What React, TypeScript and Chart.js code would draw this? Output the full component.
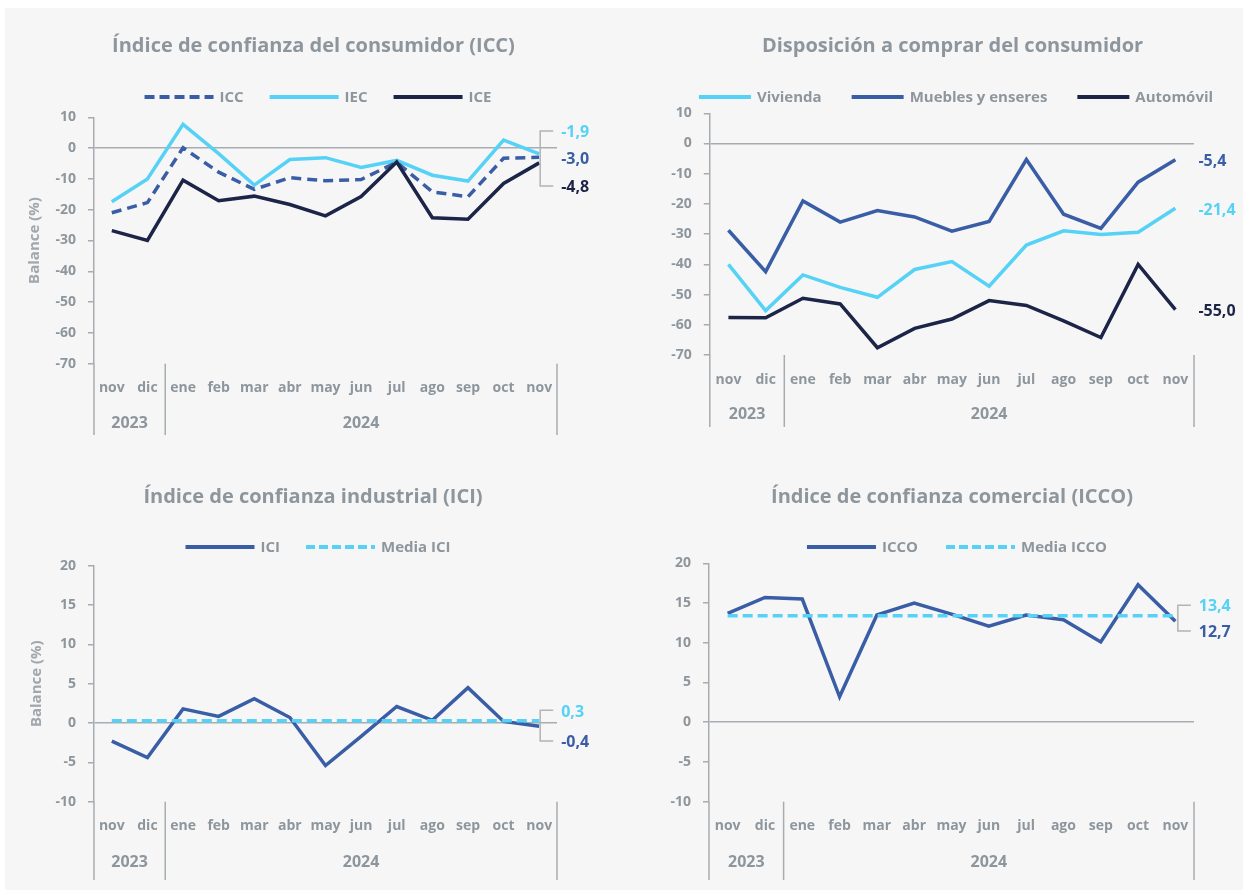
import React, { useEffect, useRef } from "react";
import { Chart, registerables } from "chart.js";

Chart.register(...registerables);

// ---------------- data ----------------
const months = ["nov", "dic", "ene", "feb", "mar", "abr", "may", "jun", "jul", "ago", "sep", "oct", "nov"];
const years = ["2023", "2024"];
const yearSpans = [2, 11];

const iccValues = [-21.0, -17.7, 0.1, -7.8, -13.4, -9.6, -10.6, -10.2, -4.6, -14.2, -15.8, -3.3, -3.0];
const iecValues = [-17.4, -10.0, 7.7, -1.8, -12.0, -3.7, -3.1, -6.3, -4.0, -8.8, -10.7, 2.6, -1.9];
const iceValues = [-26.8, -30.0, -10.4, -17.1, -15.6, -18.3, -22.0, -15.7, -4.5, -22.6, -23.1, -11.5, -4.8];

const viviendaValues = [-40.0, -55.3, -43.5, -47.6, -50.9, -41.7, -39.1, -47.2, -33.6, -28.9, -30.1, -29.4, -21.4];
const mueblesValues = [-28.7, -42.4, -19.0, -26.0, -22.2, -24.3, -29.0, -25.8, -5.3, -23.4, -28.1, -12.8, -5.4];
const automovilValues = [-57.6, -57.7, -51.2, -53.1, -67.6, -61.2, -58.1, -52.0, -53.6, -58.7, -64.2, -40.0, -55.0];

const iciValues = [-2.3, -4.4, 1.8, 0.85, 3.1, 0.7, -5.4, -1.7, 2.1, 0.35, 4.5, 0.2, -0.4];
const mediaIciValues = [0.3, 0.3, 0.3, 0.3, 0.3, 0.3, 0.3, 0.3, 0.3, 0.3, 0.3, 0.3, 0.3];

const iccoValues = [13.7, 15.7, 15.5, 3.2, 13.5, 15.0, 13.6, 12.1, 13.5, 12.9, 10.1, 17.3, 12.7];
const mediaIccoValues = [13.4, 13.4, 13.4, 13.4, 13.4, 13.4, 13.4, 13.4, 13.4, 13.4, 13.4, 13.4, 13.4];

const ticksWide = { min: -70, max: 10, step: 10 };
const ticksNarrow = { min: -10, max: 20, step: 5 };

// ---------------- styles ----------------
const LIGHT = "#55d2f6";
const MID = "#3a5ea6";
const NAVY = "#1c2547";
const TEXT = "#8e969d";
const AXIS = "#a7acb1";
const BRACKET = "#b3b3b3";
const BG = "#f6f6f6";
const FONT = "'Open Sans', sans-serif";

const fmt = (v: number) => v.toFixed(1).replace(".", ",");

const decorPlugin = {
  id: "decor",
  afterDraw(chart: any, _args: any, o: any) {
    if (!o || !o.title) return;
    const { ctx, chartArea } = chart;
    const xs = chart.scales.x;
    ctx.save();
    // title
    ctx.fillStyle = TEXT;
    ctx.font = `bold 20px ${FONT}`;
    ctx.textAlign = "center";
    ctx.textBaseline = "middle";
    ctx.fillText(o.title, o.titleX, o.titleY);

    // legend
    ctx.font = `bold 15px ${FONT}`;
    const items = o.legend;
    const widths = items.map((it: any) => ctx.measureText(it.label).width);
    const total =
      items.reduce((s: number, it: any, i: number) => s + it.lineLen + o.legendTextGap + widths[i], 0) +
      o.legendGap * (items.length - 1);
    let lx = o.legendX - total / 2;
    items.forEach((it: any, i: number) => {
      ctx.beginPath();
      ctx.setLineDash(it.dash || []);
      ctx.lineWidth = 4;
      ctx.lineCap = "butt";
      ctx.strokeStyle = it.color;
      ctx.moveTo(lx, o.legendY);
      ctx.lineTo(lx + it.lineLen, o.legendY);
      ctx.stroke();
      ctx.setLineDash([]);
      lx += it.lineLen + o.legendTextGap;
      ctx.textAlign = "left";
      ctx.fillStyle = TEXT;
      ctx.fillText(it.label, lx, o.legendY + 1);
      lx += widths[i] + o.legendGap;
    });

    // separators + year labels
    const step = xs.getPixelForValue(1) - xs.getPixelForValue(0);
    ctx.strokeStyle = AXIS;
    ctx.lineWidth = 1.5;
    const drawSep = (px: number) => {
      ctx.beginPath();
      ctx.moveTo(px, chartArea.bottom);
      ctx.lineTo(px, o.sepBottom);
      ctx.stroke();
    };
    drawSep(xs.getPixelForValue(0) - step / 2);
    ctx.font = `bold 16px ${FONT}`;
    ctx.fillStyle = TEXT;
    ctx.textAlign = "center";
    let start = 0;
    years.forEach((yr, i) => {
      const end = start + yearSpans[i] - 1;
      const cx = (xs.getPixelForValue(start) + xs.getPixelForValue(end)) / 2;
      ctx.fillText(yr, cx, o.yearY);
      drawSep(xs.getPixelForValue(end) + step / 2);
      start = end + 1;
    });

    const lastPt = (ds: number) => {
      const meta = chart.getDatasetMeta(ds);
      return meta.data[meta.data.length - 1];
    };

    // bracket
    if (o.bracket) {
      const b = o.bracket;
      const pTop = lastPt(b.top.ds);
      const pBot = lastPt(b.bottom.ds);
      const bx = pTop.x + b.dx;
      const yt = pTop.y + b.top.dy;
      const yb = pBot.y + b.bottom.dy;
      ctx.strokeStyle = BRACKET;
      ctx.lineWidth = 1.5;
      ctx.beginPath();
      ctx.moveTo(bx + b.len, yt);
      ctx.lineTo(bx, yt);
      ctx.lineTo(bx, yb);
      ctx.lineTo(bx + b.len, yb);
      ctx.stroke();
    }

    // end labels
    ctx.font = `bold 16px ${FONT}`;
    ctx.textAlign = "left";
    o.endLabels.forEach((l: any) => {
      const pt = lastPt(l.ds);
      const data = chart.data.datasets[l.ds].data;
      ctx.fillStyle = l.color;
      ctx.fillText(fmt(data[data.length - 1]), pt.x + o.labelDx, pt.y + l.dy);
    });
    ctx.restore();
  },
};

function line(label: string, data: number[], color: string, order: number, dash?: number[]) {
  return {
    label,
    data,
    borderColor: color,
    backgroundColor: color,
    borderWidth: 3.5,
    borderDash: dash || [],
    pointRadius: 0,
    tension: 0,
    fill: false,
    order,
  };
}

function makeConfig(p: any) {
  const XH = 60;
  return {
    type: "line",
    data: { labels: months, datasets: p.datasets },
    plugins: [decorPlugin],
    options: {
      animation: false,
      responsive: false,
      maintainAspectRatio: false,
      layout: {
        padding: {
          left: p.padLeft,
          right: p.W - p.area.right,
          top: p.area.top,
          bottom: p.H - p.area.bottom - XH,
        },
      },
      plugins: {
        legend: { display: false },
        title: { display: false },
        tooltip: { enabled: false },
        decor: p.decor,
      },
      scales: {
        x: {
          type: "category",
          offset: true,
          grid: { display: false, drawTicks: false },
          border: { display: false },
          ticks: {
            autoSkip: false,
            maxRotation: 0,
            padding: p.xPad,
            color: TEXT,
            font: { family: FONT, weight: "bold", size: 14 },
          },
          afterFit: (s: any) => {
            s.height = XH;
          },
        },
        y: {
          min: p.y.min,
          max: p.y.max,
          ticks: {
            stepSize: p.y.step,
            padding: 12,
            color: TEXT,
            font: { family: FONT, weight: "bold", size: 14 },
            callback: (v: any) => String(v),
          },
          grid: {
            color: (c: any) => (c.tick && c.tick.value === 0 ? AXIS : "transparent"),
            lineWidth: 1.5,
            tickColor: AXIS,
            tickLength: 6,
            drawTicks: true,
          },
          border: { display: true, color: AXIS, width: 1.5 },
          title: {
            display: !!p.yTitle,
            text: p.yTitle || "",
            color: "#a1a7ac",
            font: { family: FONT, weight: "bold", size: 15 },
            padding: { top: 4, bottom: 4 },
          },
          afterFit: (s: any) => {
            s.width = p.area.left - p.padLeft;
          },
        },
      },
    },
  };
}

const panels = [
  {
    key: "icc",
    left: 0,
    top: 0,
    W: 620,
    H: 440,
    padLeft: 17,
    area: { left: 89, right: 552, top: 109.3, bottom: 355.7 },
    xPad: 16,
    y: ticksWide,
    yTitle: "Balance (%)",
    datasets: [
      line("ICC", iccValues, MID, 1, [10, 6]),
      line("IEC", iecValues, LIGHT, 2),
      line("ICE", iceValues, NAVY, 0),
    ],
    decor: {
      title: "Índice de confianza del consumidor (ICC)",
      titleX: 308.5,
      titleY: 38,
      legendX: 313,
      legendY: 89,
      legendTextGap: 6,
      legendGap: 26,
      legend: [
        { label: "ICC", color: MID, dash: [10, 5], lineLen: 69 },
        { label: "IEC", color: LIGHT, lineLen: 69 },
        { label: "ICE", color: NAVY, lineLen: 69 },
      ],
      yearY: 415,
      sepBottom: 427,
      labelDx: 22,
      endLabels: [
        { ds: 1, dy: -22, color: LIGHT },
        { ds: 0, dy: 2, color: MID },
        { ds: 2, dy: 25, color: NAVY },
      ],
      bracket: { top: { ds: 1, dy: -23 }, bottom: { ds: 2, dy: 23 }, dx: 1, len: 13 },
    },
  },
  {
    key: "disp",
    left: 620,
    top: 0,
    W: 618,
    H: 440,
    padLeft: 10,
    area: { left: 84.8, right: 569, top: 105.3, bottom: 347 },
    xPad: 16.5,
    y: ticksWide,
    yTitle: "",
    datasets: [
      line("Vivienda", viviendaValues, LIGHT, 2),
      line("Muebles y enseres", mueblesValues, MID, 1),
      line("Automóvil", automovilValues, NAVY, 0),
    ],
    decor: {
      title: "Disposición a comprar del consumidor",
      titleX: 327.5,
      titleY: 38,
      legendX: 331,
      legendY: 89,
      legendTextGap: 6,
      legendGap: 30,
      legend: [
        { label: "Vivienda", color: LIGHT, lineLen: 52 },
        { label: "Muebles y enseres", color: MID, lineLen: 52 },
        { label: "Automóvil", color: NAVY, lineLen: 52 },
      ],
      yearY: 406,
      sepBottom: 419,
      labelDx: 23,
      endLabels: [
        { ds: 1, dy: 2, color: MID },
        { ds: 0, dy: 2, color: LIGHT },
        { ds: 2, dy: 2, color: NAVY },
      ],
    },
  },
  {
    key: "ici",
    left: 0,
    top: 440,
    W: 620,
    H: 442,
    padLeft: 19,
    area: { left: 89, right: 552, top: 117.7, bottom: 353.7 },
    xPad: 16,
    y: ticksNarrow,
    yTitle: "Balance (%)",
    datasets: [line("ICI", iciValues, MID, 1), line("Media ICI", mediaIciValues, LIGHT, 0, [10, 5])],
    decor: {
      title: "Índice de confianza industrial (ICI)",
      titleX: 308,
      titleY: 49,
      legendX: 313,
      legendY: 99,
      legendTextGap: 6,
      legendGap: 26,
      legend: [
        { label: "ICI", color: MID, lineLen: 69 },
        { label: "Media ICI", color: LIGHT, dash: [9, 4], lineLen: 69 },
      ],
      yearY: 414,
      sepBottom: 432,
      labelDx: 22,
      endLabels: [
        { ds: 1, dy: -8.6, color: LIGHT },
        { ds: 0, dy: 16.4, color: MID },
      ],
      bracket: { top: { ds: 1, dy: -10.3 }, bottom: { ds: 0, dy: 14.8 }, dx: 1, len: 13 },
    },
  },
  {
    key: "icco",
    left: 620,
    top: 440,
    W: 618,
    H: 442,
    padLeft: 10,
    area: { left: 84, right: 569, top: 115.3, bottom: 353.7 },
    xPad: 16,
    y: ticksNarrow,
    yTitle: "",
    datasets: [line("ICCO", iccoValues, MID, 1), line("Media ICCO", mediaIccoValues, LIGHT, 0, [10, 5])],
    decor: {
      title: "Índice de confianza comercial (ICCO)",
      titleX: 327,
      titleY: 49,
      legendX: 332,
      legendY: 99,
      legendTextGap: 6,
      legendGap: 28,
      legend: [
        { label: "ICCO", color: MID, lineLen: 69 },
        { label: "Media ICCO", color: LIGHT, dash: [9, 4], lineLen: 69 },
      ],
      yearY: 414,
      sepBottom: 432,
      labelDx: 23.4,
      endLabels: [
        { ds: 1, dy: -9, color: LIGHT },
        { ds: 0, dy: 11, color: MID },
      ],
      bracket: { top: { ds: 1, dy: -10.6 }, bottom: { ds: 0, dy: 9.6 }, dx: 2.5, len: 13 },
    },
  },
];

function Panel({ p }: { p: any }) {
  const ref = useRef<HTMLCanvasElement | null>(null);
  useEffect(() => {
    if (!ref.current) return;
    const chart = new Chart(ref.current, makeConfig(p) as any);
    return () => chart.destroy();
  }, []);
  return (
    <canvas
      ref={ref}
      width={p.W}
      height={p.H}
      style={{ position: "absolute", left: p.left, top: p.top, width: p.W, height: p.H }}
    />
  );
}

export default function App() {
  return (
    <div
      style={{
        position: "absolute",
        left: 5,
        top: 8,
        width: 1238,
        height: 882,
        background: BG,
      }}
    >
      {panels.map((p) => (
        <Panel key={p.key} p={p} />
      ))}
    </div>
  );
}
